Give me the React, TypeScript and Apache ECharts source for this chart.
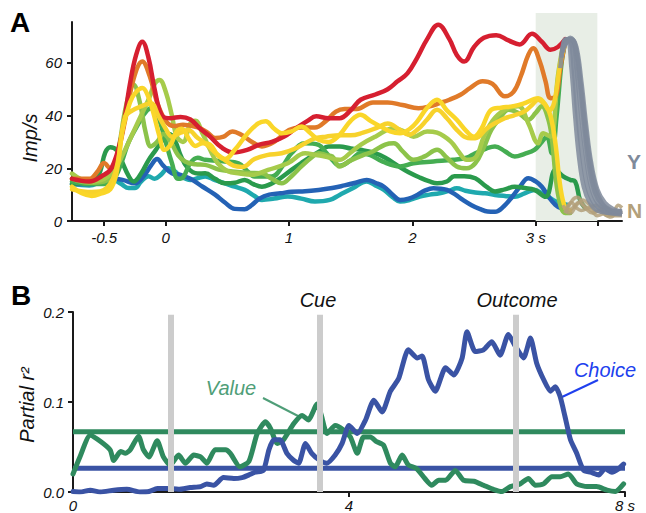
import React, { useEffect, useRef } from 'react';
import * as echarts from 'echarts';

// ---------- Panel A: firing rate (Imp/s) vs time (s) ----------
const RED = [[-0.76,16],[-0.62,15],[-0.52,17],[-0.44,20],[-0.36,32],[-0.29,52],[-0.24,63],[-0.19,68],[-0.14,62],[-0.09,50],[-0.03,40],[0.04,39],[0.12,39.5],[0.2,38.5],[0.28,35],[0.36,32],[0.45,28],[0.55,26],[0.66,27],[0.76,29],[0.86,30],[0.96,32],[1.05,35],[1.15,38],[1.22,39.7],[1.32,39],[1.41,39],[1.5,42],[1.58,46],[1.7,48],[1.8,50],[1.88,53],[1.96,56],[2.04,62],[2.12,69],[2.21,74.5],[2.3,69],[2.36,63],[2.42,60.5],[2.5,66],[2.58,69.5],[2.68,70.5],[2.78,68.5],[2.87,67],[2.97,71],[3.05,68],[3.12,65],[3.18,66],[3.24,69]];
const ORANGE = [[-0.76,16],[-0.62,16],[-0.55,19],[-0.5,22],[-0.45,20],[-0.4,24],[-0.33,38],[-0.26,54],[-0.19,60.5],[-0.13,55],[-0.07,45],[0,38],[0.07,36],[0.14,36.5],[0.26,35.5],[0.34,33.5],[0.4,31.5],[0.47,32],[0.54,34],[0.62,32.5],[0.7,30],[0.78,28.3],[0.88,30],[1.0,34.5],[1.1,35.5],[1.21,35.5],[1.3,38],[1.38,41.5],[1.45,42.5],[1.55,42.5],[1.68,45],[1.8,45],[1.92,44],[2.05,42.8],[2.14,43.5],[2.22,44.7],[2.3,46],[2.39,47.9],[2.47,50.5],[2.57,53],[2.65,52],[2.75,47.3],[2.82,49],[2.88,55],[2.94,63],[2.98,65.5],[3.03,61],[3.08,53],[3.12,46.6],[3.16,47],[3.2,58],[3.24,68]];
const YELLOW_A = [[-0.76,12],[-0.6,11],[-0.48,12.5],[-0.4,20],[-0.33,39.5],[-0.27,42],[-0.2,43.5],[-0.12,44.7],[-0.06,40],[0,35],[0.05,32],[0.12,33.5],[0.18,34.5],[0.26,31.5],[0.32,29.5],[0.4,26],[0.47,23.5],[0.55,21],[0.62,20.5],[0.72,23.5],[0.82,25],[0.94,25.7],[1.05,27.5],[1.13,29.5],[1.22,31.5],[1.3,32],[1.41,32.5],[1.5,32.5],[1.6,33.5],[1.72,35.5],[1.8,37],[1.9,34.5],[1.97,32.7],[2.05,35],[2.12,38.5],[2.2,42.2],[2.28,39],[2.36,34.6],[2.45,31.5],[2.51,31.4],[2.6,35],[2.67,37.1],[2.75,39],[2.82,40],[2.91,41.6],[2.97,44],[3.02,46],[3.07,44.5],[3.11,42],[3.15,45],[3.2,60],[3.24,68]];
const YELLOW_B = [[-0.76,13],[-0.68,10.5],[-0.6,9.5],[-0.52,10.5],[-0.45,12],[-0.4,18],[-0.35,34.5],[-0.29,45],[-0.24,49],[-0.19,50.5],[-0.14,47],[-0.1,41],[-0.05,32],[-0.01,27],[0.04,29],[0.09,34],[0.13,35],[0.19,31],[0.24,28.5],[0.3,29.5],[0.36,29],[0.42,25],[0.48,23.5],[0.56,27],[0.66,33],[0.75,37],[0.81,37.8],[0.88,35],[0.94,33.3],[1.02,34],[1.1,35.9],[1.17,33.5],[1.24,30.8],[1.32,30],[1.41,32.7],[1.5,38],[1.58,40.3],[1.66,38],[1.74,35.9],[1.82,34],[1.9,33.3],[1.98,35],[2.04,37.8],[2.12,43],[2.2,46],[2.28,42],[2.36,38.4],[2.44,34],[2.5,32],[2.56,35],[2.64,42.2],[2.72,43],[2.81,43.5],[2.9,44.5],[3.02,46.6],[3.08,44],[3.12,40],[3.16,29.5],[3.2,13],[3.24,5],[3.28,4]];
const LIGHT_GREEN_A = [[-0.76,18],[-0.62,15],[-0.5,16],[-0.42,19],[-0.35,25],[-0.27,33],[-0.2,40],[-0.14,46],[-0.09,52],[-0.05,53.5],[0,49],[0.05,40],[0.09,32],[0.14,30],[0.2,37],[0.24,38],[0.3,33],[0.36,27],[0.42,22],[0.5,19],[0.6,18],[0.7,17.5],[0.83,19.4],[0.99,21.9],[1.13,25.7],[1.22,25],[1.29,24.5],[1.41,23.2],[1.5,26],[1.58,28.9],[1.7,32],[1.85,35.2],[1.93,34],[2.01,32],[2.12,34],[2.2,33.5],[2.31,30.2],[2.38,26],[2.44,23.2],[2.51,24],[2.58,32],[2.65,38],[2.75,42.2],[2.86,43.5],[2.94,37.1],[3.02,29.5],[3.06,33.3],[3.12,32],[3.18,54.9],[3.22,66.3]];
const LIGHT_GREEN_B = [[-0.76,16],[-0.62,14.5],[-0.5,15],[-0.44,17],[-0.38,28],[-0.32,44],[-0.26,51.7],[-0.21,45],[-0.16,33],[-0.12,28.3],[-0.07,30],[-0.02,33],[0.04,30],[0.1,25],[0.16,22.5],[0.24,21.5],[0.32,21.3],[0.43,19.5],[0.54,18.8],[0.66,18.3],[0.78,18.1],[0.86,16],[0.94,14.3],[1.02,17],[1.1,20.7],[1.18,24],[1.24,25.7],[1.3,25],[1.35,24.5],[1.41,20.7],[1.5,23],[1.6,25],[1.68,26.4],[1.78,29],[1.85,29.5],[1.92,26.5],[2.01,23.2],[2.1,24.5],[2.2,27],[2.28,24],[2.36,20.7],[2.44,20],[2.51,21.9],[2.58,28],[2.64,34.6],[2.71,39],[2.78,42.2],[2.86,41],[2.94,38.4],[3.0,41],[3.05,43.5],[3.1,39],[3.13,32],[3.18,10.5],[3.24,3],[3.28,3]];
const GREEN = [[-0.76,15],[-0.62,14],[-0.5,14],[-0.42,16],[-0.36,22],[-0.3,30],[-0.22,37],[-0.15,42],[-0.1,43],[-0.05,38],[0.0,30],[0.05,22],[0.1,16],[0.14,16.5],[0.2,22],[0.26,24],[0.32,23.2],[0.48,22.6],[0.59,21.9],[0.66,19],[0.72,16.9],[0.86,16.9],[0.95,21],[1.02,25.7],[1.13,29.5],[1.24,28.9],[1.3,26],[1.35,23.2],[1.41,21],[1.5,23],[1.58,25.7],[1.66,25],[1.76,22.5],[1.9,20.7],[2.01,21.9],[2.17,22.6],[2.33,23.2],[2.44,24],[2.51,25.7],[2.6,27.5],[2.67,28.3],[2.75,26.5],[2.83,24.5],[2.91,25.5],[2.99,27],[3.05,30],[3.09,32],[3.13,25.7],[3.17,40],[3.21,60],[3.24,68]];
const DARK_GREEN = [[-0.76,14],[-0.64,15],[-0.55,17],[-0.49,26],[-0.45,28],[-0.4,27],[-0.35,22],[-0.3,17],[-0.26,15],[-0.2,18],[-0.14,23],[-0.08,27],[-0.02,31],[0.03,33],[0.08,30],[0.12,25],[0.18,20],[0.26,18],[0.32,18.1],[0.4,16],[0.48,14.3],[0.56,14.5],[0.64,15.6],[0.71,14],[0.78,13],[0.85,14],[0.91,15.6],[1.02,19.4],[1.1,22],[1.18,24.5],[1.25,26.5],[1.32,28.3],[1.41,28.3],[1.5,27.5],[1.58,27],[1.68,26],[1.78,24],[1.88,21],[1.97,18.5],[2.06,16.5],[2.14,15],[2.2,14.3],[2.28,15],[2.34,17],[2.42,17],[2.51,16.2],[2.6,13],[2.67,11.2],[2.75,12],[2.83,13],[2.91,12.5],[2.99,11.8],[3.08,9.2],[3.16,19.4],[3.22,17],[3.28,15.6],[3.32,15],[3.36,8],[3.4,5]];
const TEAL = [[-0.76,14],[-0.62,13.5],[-0.52,15],[-0.44,16],[-0.36,14],[-0.3,12.5],[-0.25,12.5],[-0.2,15],[-0.14,17],[-0.09,16],[-0.04,17.5],[0.02,20],[0.07,19],[0.12,17],[0.2,15.6],[0.32,16.9],[0.4,15.5],[0.48,14.3],[0.56,13],[0.64,11.8],[0.72,9.5],[0.78,8],[0.88,8.5],[0.99,9.3],[1.1,8.5],[1.21,7.4],[1.33,8],[1.41,9.9],[1.52,12.5],[1.63,15],[1.7,13.5],[1.77,11.8],[1.84,9],[1.9,7.4],[1.98,8],[2.06,9.3],[2.14,10],[2.22,10.5],[2.3,11.5],[2.36,12.4],[2.43,11.5],[2.51,10.8],[2.59,10.5],[2.67,9.9],[2.75,9.5],[2.83,9.2],[2.91,10.5],[2.99,11.8],[3.05,10.5],[3.1,9.2],[3.16,7.5],[3.21,6.7],[3.26,6.1]];
const BLUE = [[-0.76,14],[-0.62,14],[-0.5,15],[-0.42,16],[-0.35,15.6],[-0.25,14.3],[-0.18,17],[-0.12,21],[-0.07,23.5],[-0.02,21],[0.05,18.1],[0.12,17.5],[0.2,16],[0.3,13],[0.4,10],[0.48,7],[0.56,4.6],[0.64,4.5],[0.7,6.1],[0.76,8.5],[0.84,10],[0.93,10.5],[1.02,11.1],[1.13,11.3],[1.24,11.8],[1.35,12.5],[1.45,13.5],[1.54,14.5],[1.63,15.6],[1.7,14.5],[1.77,13],[1.84,10],[1.9,8],[1.97,8.5],[2.04,9.9],[2.1,11.5],[2.17,12.4],[2.23,12.2],[2.28,11.8],[2.35,10],[2.41,8],[2.48,6],[2.55,4.5],[2.61,3.6],[2.67,3.5],[2.74,5.5],[2.81,9.2],[2.88,13.5],[2.94,16.2],[3.0,15],[3.05,13],[3.1,9.5],[3.16,6.1],[3.2,5],[3.24,4.8]];

// "Y" trials (grey) and "N" trials (tan) after the response
const YES_1 = [[3.2,58],[3.23,68],[3.26,69],[3.29,58],[3.32,40],[3.35,25],[3.39,13],[3.44,7],[3.5,4],[3.6,3],[3.7,2.5]];
const YES_2 = [[3.21,62],[3.24,69],[3.28,68.5],[3.31,57],[3.34,40],[3.38,24],[3.42,13],[3.47,7],[3.54,4],[3.62,3],[3.7,3]];
const YES_3 = [[3.22,64],[3.26,69],[3.3,68.5],[3.33,58],[3.37,40],[3.41,24],[3.45,13],[3.5,7],[3.57,4.5],[3.64,3.5],[3.7,4]];
const YES_4 = [[3.22,65],[3.27,69],[3.31,68],[3.35,56],[3.39,38],[3.43,22],[3.48,11],[3.54,6],[3.6,4],[3.66,3],[3.7,3.5]];
const YES_5 = [[3.23,66],[3.28,69.5],[3.32,67],[3.36,54],[3.4,37],[3.44,23],[3.49,12],[3.55,6],[3.62,4],[3.7,3]];
const YES_6 = [[3.24,67],[3.29,69],[3.33,66],[3.37,53],[3.41,36],[3.45,22],[3.5,12],[3.56,7],[3.63,4.5],[3.7,3.5]];
const NO_1 = [[3.22,6],[3.26,4],[3.3,5],[3.35,7],[3.4,5],[3.46,3],[3.52,4],[3.58,2],[3.64,3],[3.7,4]];
const NO_2 = [[3.23,4],[3.28,3],[3.33,6],[3.38,8],[3.44,6],[3.5,3.5],[3.56,5],[3.62,3],[3.67,6],[3.7,5]];
const NO_3 = [[3.24,3],[3.3,8],[3.34,9],[3.39,6],[3.45,4],[3.5,2],[3.57,3],[3.63,2],[3.7,2]];
const NO_4 = [[3.25,5],[3.29,7],[3.33,5],[3.37,4],[3.43,5],[3.49,6],[3.55,3],[3.61,1.5],[3.66,3],[3.7,2.5]];

const A_X_TICKS = [-0.5, 0, 1, 2, 3, 3.5];
const A_X_LABELS = [-0.5, 0, 1, 2, 3];
const A_Y_LABELS = [0, 20, 40, 60];
const RESPONSE_WINDOW = [3, 3.5];

// ---------- Panel B: partial r² vs time (s) ----------
const VALUE_R2 = [[0,0.02],[0.1,0.039],[0.25,0.063],[0.4,0.056],[0.54,0.0465],[0.59,0.035],[0.69,0.045],[0.76,0.043],[0.83,0.047],[0.95,0.062],[1.02,0.047],[1.1,0.039],[1.22,0.057],[1.31,0.039],[1.41,0.03],[1.53,0.041],[1.63,0.032],[1.75,0.041],[1.85,0.039],[1.94,0.032],[2.06,0.047],[2.21,0.047],[2.28,0.043],[2.42,0.028],[2.55,0.034],[2.67,0.065],[2.79,0.078],[2.86,0.071],[2.96,0.054],[3.05,0.058],[3.2,0.076],[3.32,0.085],[3.41,0.08],[3.54,0.098],[3.6,0.085],[3.68,0.065],[3.8,0.074],[3.92,0.069],[4.02,0.061],[4.12,0.043],[4.21,0.061],[4.31,0.061],[4.4,0.056],[4.5,0.052],[4.6,0.032],[4.67,0.028],[4.77,0.041],[4.86,0.03],[4.98,0.026],[5.1,0.015],[5.2,0.0075],[5.3,0.013],[5.4,0.013],[5.54,0.024],[5.66,0.013],[5.81,0.012],[5.95,0.0075],[6.1,0.0027],[6.22,0.0005],[6.34,0.006],[6.48,0.009],[6.6,0.015],[6.7,0.0075],[6.82,0.009],[6.94,0.017],[7.06,0.017],[7.18,0.02],[7.3,0.009],[7.45,0.006],[7.59,0.006],[7.74,0.002],[7.86,0.0005],[7.98,0.009]];
const CHOICE_R2 = [[0,0.0005],[0.1,0.0],[0.25,0.002],[0.4,0.0],[0.59,0.002],[0.78,0.003],[0.97,0.0],[1.1,0.0005],[1.22,0.004],[1.36,0.004],[1.53,0.003],[1.7,0.005],[1.85,0.006],[1.94,0.009],[2.04,0.0075],[2.18,0.016],[2.33,0.015],[2.45,0.016],[2.55,0.019],[2.64,0.022],[2.76,0.024],[2.84,0.047],[2.91,0.058],[3.0,0.058],[3.1,0.043],[3.2,0.035],[3.27,0.032],[3.37,0.054],[3.46,0.043],[3.58,0.035],[3.68,0.032],[3.8,0.041],[3.9,0.054],[4.0,0.074],[4.12,0.065],[4.24,0.08],[4.36,0.102],[4.48,0.089],[4.6,0.112],[4.72,0.126],[4.86,0.158],[4.99,0.149],[5.06,0.151],[5.15,0.125],[5.25,0.112],[5.4,0.138],[5.52,0.13],[5.64,0.149],[5.71,0.178],[5.83,0.156],[5.95,0.158],[6.07,0.167],[6.19,0.152],[6.31,0.175],[6.41,0.162],[6.53,0.149],[6.63,0.171],[6.72,0.143],[6.82,0.125],[6.92,0.112],[6.99,0.117],[7.06,0.106],[7.13,0.084],[7.21,0.058],[7.3,0.043],[7.4,0.024],[7.5,0.022],[7.62,0.019],[7.71,0.026],[7.81,0.022],[7.91,0.026],[7.98,0.031]];
const VALUE_THRESHOLD = 0.067;
const CHOICE_THRESHOLD = 0.0265;
const EVENT_TIMES = [1.42, 3.57, 6.42];
const EVENT_TOP = 0.197;
const B_X_LABELS = [0, 4, 8];
const B_X_TICKS = [4, 8];
const B_Y_LABELS = [0, 0.1, 0.2];

const SANS = '"Liberation Sans", Arial, sans-serif';
const TICK_FONT = { fontFamily: SANS, fontStyle: 'italic', fontSize: 15, color: '#111' };
const AXIS_LINE = { show: true, onZero: false, lineStyle: { color: '#1a1a1a', width: 2 } };

function buildOption() {
  const colored = [
    { d: TEAL, c: '#1fa9ae' },
    { d: BLUE, c: '#2462b5' },
    { d: DARK_GREEN, c: '#2a9a4c' },
    { d: GREEN, c: '#45ad52' },
    { d: LIGHT_GREEN_B, c: '#8cc34a' },
    { d: LIGHT_GREEN_A, c: '#a6cb4b' },
    { d: ORANGE, c: '#e07a29' },
    { d: RED, c: '#d61f30' },
    { d: YELLOW_A, c: '#f7d22c' },
    { d: YELLOW_B, c: '#fad629' },
  ];
  const yes = [YES_1, YES_2, YES_3, YES_4, YES_5, YES_6];
  const no = [NO_1, NO_2, NO_3, NO_4];

  const series: any[] = [];
  series.push({
    type: 'line', xAxisIndex: 1, yAxisIndex: 1, data: [[RESPONSE_WINDOW[0], 0]], showSymbol: false,
    lineStyle: { opacity: 0 }, silent: true, z: 0,
    markArea: { silent: true, itemStyle: { color: '#e8eee6' }, data: [[{ xAxis: RESPONSE_WINDOW[0] }, { xAxis: RESPONSE_WINDOW[1] }]] },
  });
  colored.forEach((s) => series.push({
    type: 'line', xAxisIndex: 0, yAxisIndex: 0, data: s.d, smooth: 0.4, showSymbol: false, silent: true,
    lineStyle: { color: s.c, width: 4.5, cap: 'round', join: 'round' }, z: 2,
  }));
  no.forEach((d) => series.push({
    type: 'line', xAxisIndex: 0, yAxisIndex: 0, data: d, smooth: 0.4, showSymbol: false, silent: true,
    lineStyle: { color: '#b3a07a', width: 3.5, opacity: 0.85 }, z: 3,
  }));
  yes.forEach((d) => series.push({
    type: 'line', xAxisIndex: 0, yAxisIndex: 0, data: d, smooth: 0.4, showSymbol: false, silent: true,
    lineStyle: { color: '#7f8a9b', width: 4.5, opacity: 0.85 }, z: 3,
  }));

  // Panel B
  series.push({
    type: 'line', xAxisIndex: 2, yAxisIndex: 2, data: [], silent: true, z: 1,
    markLine: {
      silent: true, symbol: ['none', 'none'], label: { show: false },
      lineStyle: { color: '#cccccc', width: 6, type: 'solid' },
      data: EVENT_TIMES.map((t) => [{ coord: [t, 0] }, { coord: [t, EVENT_TOP] }]),
    },
  });
  series.push({
    type: 'line', xAxisIndex: 2, yAxisIndex: 2, data: [[0, VALUE_THRESHOLD], [8, VALUE_THRESHOLD]], showSymbol: false, silent: true,
    lineStyle: { color: '#2f8a5e', width: 5 }, z: 2,
  });
  series.push({
    type: 'line', xAxisIndex: 2, yAxisIndex: 2, data: [[0, CHOICE_THRESHOLD], [8, CHOICE_THRESHOLD]], showSymbol: false, silent: true,
    lineStyle: { color: '#3a53a4', width: 5 }, z: 2,
  });
  series.push({
    type: 'line', xAxisIndex: 2, yAxisIndex: 2, data: VALUE_R2, showSymbol: false, silent: true, smooth: 0.2,
    lineStyle: { color: '#2f8a5e', width: 5, cap: 'round', join: 'round' }, z: 3,
  });
  series.push({
    type: 'line', xAxisIndex: 2, yAxisIndex: 2, data: CHOICE_R2, showSymbol: false, silent: true, smooth: 0.2,
    lineStyle: { color: '#3a53a4', width: 5, cap: 'round', join: 'round' }, z: 4,
  });

  return {
    animation: false,
    backgroundColor: '#ffffff',
    grid: [
      { left: 72, top: 22, width: 550, height: 199 },
      { left: 72, top: 13, width: 550, height: 208 },
      { left: 73, top: 312, width: 552, height: 180 },
    ],
    xAxis: [
      {
        type: 'value', gridIndex: 0, min: -0.76, max: 3.7, splitLine: { show: false }, axisLine: AXIS_LINE,
        axisTick: { show: true, inside: false, length: 5, customValues: A_X_TICKS, lineStyle: { color: '#1a1a1a', width: 2 } },
        axisLabel: { ...TICK_FONT, margin: 9, customValues: A_X_LABELS, formatter: (v: number) => (v === 3 ? '3 s' : String(v)) },
      },
      { type: 'value', gridIndex: 1, min: -0.76, max: 3.7, show: false },
      {
        type: 'value', gridIndex: 2, min: 0, max: 8, splitLine: { show: false }, axisLine: AXIS_LINE,
        axisTick: { show: true, length: 5, customValues: B_X_TICKS, lineStyle: { color: '#1a1a1a', width: 2 } },
        axisLabel: { ...TICK_FONT, margin: 6, customValues: B_X_LABELS, formatter: (v: number) => (v === 8 ? '8 s' : String(v)) },
      },
    ],
    yAxis: [
      {
        type: 'value', gridIndex: 0, min: 0, max: 75.5, splitLine: { show: false }, axisLine: AXIS_LINE,
        axisTick: { show: true, length: 5, customValues: A_Y_LABELS, lineStyle: { color: '#1a1a1a', width: 2 } },
        axisLabel: { ...TICK_FONT, margin: 10, customValues: A_Y_LABELS },
      },
      { type: 'value', gridIndex: 1, min: 0, max: 1, show: false },
      {
        type: 'value', gridIndex: 2, min: 0, max: 0.2, splitLine: { show: false }, axisLine: AXIS_LINE,
        axisTick: { show: true, length: 5, customValues: B_Y_LABELS, lineStyle: { color: '#1a1a1a', width: 2 } },
        axisLabel: { ...TICK_FONT, margin: 9, customValues: B_Y_LABELS, formatter: (v: number) => v.toFixed(1) },
      },
    ],
    graphic: [
      { type: 'text', x: 10, y: 8, style: { text: 'A', font: `bold 28px ${SANS}`, fill: '#000' } },
      { type: 'text', x: 11, y: 281, style: { text: 'B', font: `bold 28px ${SANS}`, fill: '#000' } },
      { type: 'text', x: 30, y: 138, rotation: Math.PI / 2, style: { text: 'Imp/s', font: `italic 20px ${SANS}`, fill: '#111', align: 'center', verticalAlign: 'middle' } },
      { type: 'text', x: 27, y: 405, rotation: Math.PI / 2, style: { text: 'Partial r²', font: `italic 20px ${SANS}`, fill: '#111', align: 'center', verticalAlign: 'middle' } },
      { type: 'text', x: 627, y: 161, style: { text: 'Y', font: `bold 21px ${SANS}`, fill: '#7f8a9b', verticalAlign: 'middle' } },
      { type: 'text', x: 627, y: 210, style: { text: 'N', font: `bold 21px ${SANS}`, fill: '#b3a07a', verticalAlign: 'middle' } },
      { type: 'text', x: 318, y: 300, style: { text: 'Cue', font: `italic 20px ${SANS}`, fill: '#111', align: 'center', verticalAlign: 'middle' } },
      { type: 'text', x: 517, y: 300, style: { text: 'Outcome', font: `italic 20px ${SANS}`, fill: '#111', align: 'center', verticalAlign: 'middle' } },
      { type: 'text', x: 231, y: 388, style: { text: 'Value', font: `italic 20px ${SANS}`, fill: '#4f9e78', align: 'center', verticalAlign: 'middle' } },
      { type: 'line', shape: { x1: 263, y1: 398, x2: 300, y2: 417 }, style: { stroke: '#4f9e78', lineWidth: 2 } },
      { type: 'text', x: 605, y: 370, style: { text: 'Choice', font: `italic 20px ${SANS}`, fill: '#2040ee', align: 'center', verticalAlign: 'middle' } },
      { type: 'line', shape: { x1: 598, y1: 380, x2: 562, y2: 397 }, style: { stroke: '#2040ee', lineWidth: 2 } },
    ],
    series,
  };
}

export default function App() {
  const ref = useRef<HTMLDivElement>(null);
  useEffect(() => {
    if (!ref.current) return;
    const chart = echarts.init(ref.current, null, { renderer: 'svg' });
    chart.setOption(buildOption() as any);
    return () => chart.dispose();
  }, []);
  return <div ref={ref} style={{ position: 'fixed', left: 0, top: 0, width: 646, height: 513, background: '#fff' }} />;
}
